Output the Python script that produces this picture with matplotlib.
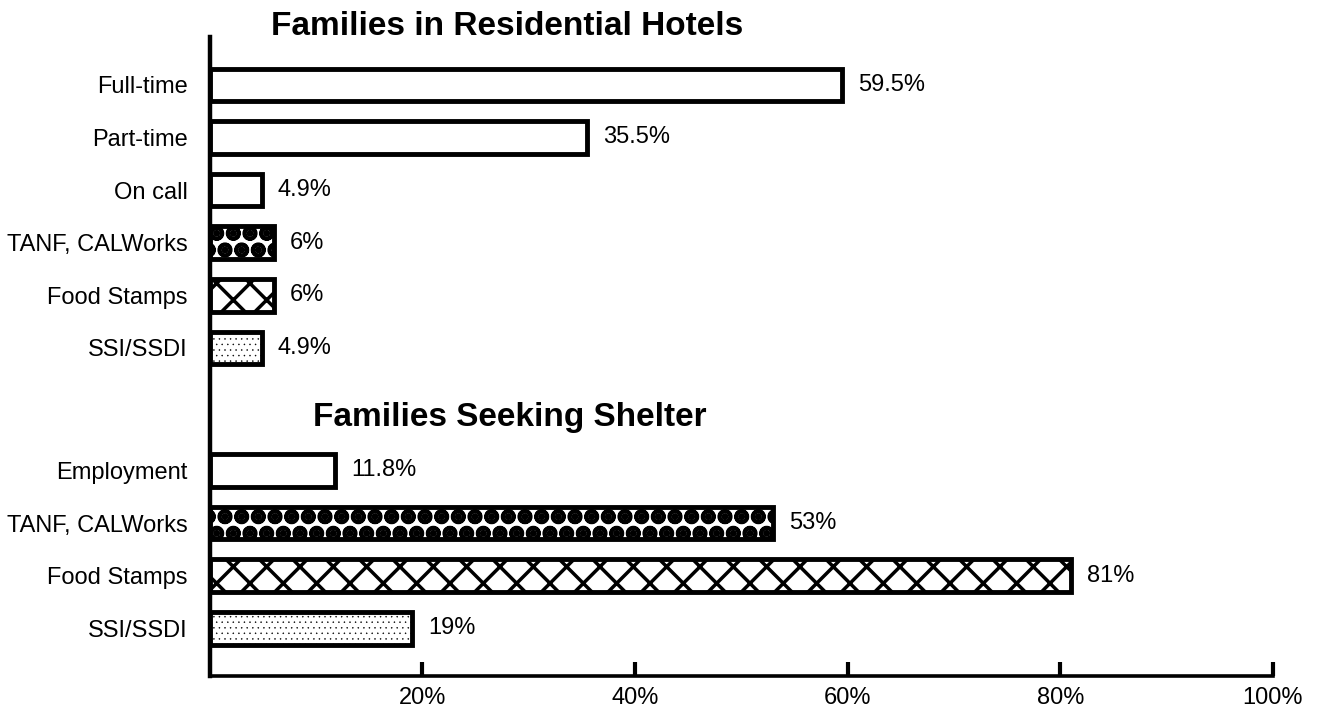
import matplotlib.pyplot as plt

plt.rcParams["font.family"] = ["Liberation Sans", "DejaVu Sans"]
plt.rcParams["hatch.color"] = "black"

# Data
hotel_title = "Families in Residential Hotels"
hotel_labels = ["Full-time", "Part-time", "On call", "TANF, CALWorks", "Food Stamps", "SSI/SSDI"]
hotel_values = [59.5, 35.5, 4.9, 6, 6, 4.9]

shelter_title = "Families Seeking Shelter"
shelter_labels = ["Employment", "TANF, CALWorks", "Food Stamps", "SSI/SSDI"]
shelter_values = [11.8, 53, 81, 19]

x_ticks = [20, 40, 60, 80, 100]

# fill pattern per income source: (hatch, hatch linewidth)
patterns = {
    "Full-time": ("", 1),
    "Part-time": ("", 1),
    "On call": ("", 1),
    "Employment": ("", 1),
    "TANF, CALWorks": ("O.", 2.5),
    "Food Stamps": ("x", 2.5),
    "SSI/SSDI": ("...", 0.3),
}

shelter_offset = 7.33  # gap between the two groups (in rows)

fig = plt.figure(figsize=(13.37, 7.11), dpi=100)
ax = fig.add_axes([0.157, 0.049, 0.795, 0.899])

hotel_pos = [i for i in range(len(hotel_labels))]
shelter_pos = [shelter_offset + i for i in range(len(shelter_labels))]

all_pos = hotel_pos + shelter_pos
all_labels = hotel_labels + shelter_labels
all_values = hotel_values + shelter_values

for p, lab, v in zip(all_pos, all_labels, all_values):
    hatch, hlw = patterns[lab]
    bars = ax.barh(p, v, height=0.62, color="white", edgecolor="black",
                   linewidth=3.5, hatch=hatch, zorder=2)
    for b in bars:
        b.set_hatch_linewidth(hlw)
    ax.text(v + 1.5, p, f"{v:g}%", va="center", ha="left", fontsize=17)

ax.text(28, -1.1, hotel_title, ha="center", va="center",
        fontsize=24, fontweight="bold", clip_on=False)
ax.text(28.2, shelter_offset - 1.0, shelter_title, ha="center", va="center",
        fontsize=24, fontweight="bold", clip_on=False)

ax.set_yticks(all_pos)
ax.set_yticklabels(all_labels, fontsize=17)
ax.set_ylim(11.24, -0.91)
ax.set_xlim(0, 100)
ax.set_xticks(x_ticks)
ax.set_xticklabels([f"{t}%" for t in x_ticks], fontsize=17)

ax.tick_params(axis="y", length=0, pad=16)
ax.tick_params(axis="x", direction="in", length=10, width=3, pad=8)

for s in ["top", "right"]:
    ax.spines[s].set_visible(False)
ax.spines["left"].set_linewidth(3.2)
ax.spines["bottom"].set_linewidth(2.6)

fig.savefig("out.png", dpi=100)
